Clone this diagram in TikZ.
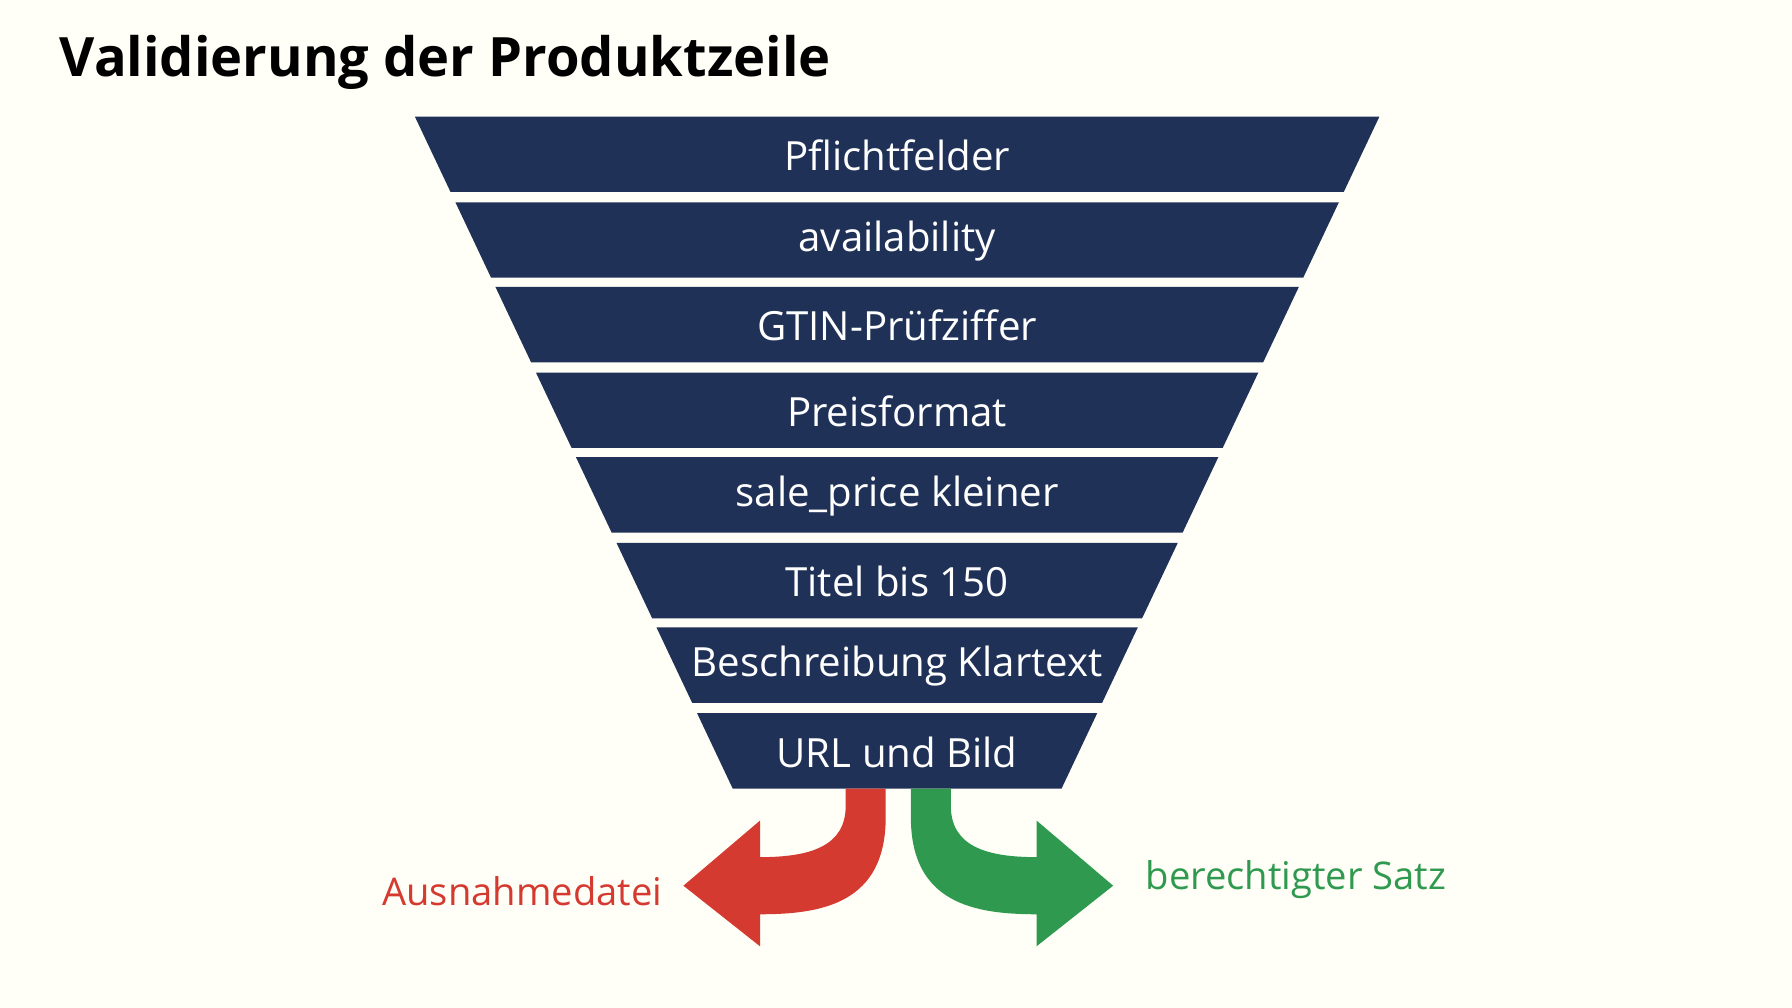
\documentclass[tikz,border=0pt]{standalone}
\usepackage{fontspec}
\setmainfont{Open Sans}
\usepackage{tikz}
\definecolor{navy}{HTML}{1F3157}
\definecolor{rejred}{HTML}{D43A30}
\definecolor{okgreen}{HTML}{2F9A4F}
\begin{document}
\begin{tikzpicture}[x=0.01cm,y=-0.01cm,
    band/.style={fill=navy},
    bandlabel/.style={text=white,font=\fontsize{10}{12}\selectfont},
    sidelabel/.style={font=\fontsize{9.5}{12}\selectfont}]
  \useasboundingbox[fill=white!97!yellow] (0,0) rectangle (1568,882);
  \node[anchor=west,font=\bfseries\fontsize{13.5}{16}\selectfont] (title) at (40,55) {Validierung der Produktzeile};
  % funnel bands
  \foreach \t/\txt [count=\i] in {102/Pflichtfelder,177/availability,251/GTIN-Prüfziffer,326/Preisformat,
      400/sale\_price kleiner,475/Titel bis 150,549/Beschreibung Klartext,624/URL und Bild}{
    \pgfmathsetmacro\b{\t+66}
    \pgfmathsetmacro\wt{422-0.473*(\t-102)}
    \pgfmathsetmacro\wb{422-0.473*(\b-102)}
    \fill[band] (785-\wt,\t) -- (785+\wt,\t) -- (785+\wb,\b) -- (785-\wb,\b) -- cycle;
    \node[bandlabel] (band\i) at (785,\t+34) {\txt};
  }
  % outlets
  \fill[rejred] (775,690) -- (775,715) .. controls (775,790) and (720,800) .. (665,800)
    -- (665,828) -- (598,775) -- (665,718) -- (665,750)
    .. controls (710,750) and (740,740) .. (740,705) -- (740,690) -- cycle;
  \fill[okgreen] (797,690) -- (797,715) .. controls (797,790) and (852,800) .. (907,800)
    -- (907,828) -- (974,775) -- (907,718) -- (907,750)
    .. controls (862,750) and (832,740) .. (832,705) -- (832,690) -- cycle;
  \node[sidelabel,text=rejred,anchor=east] (reject) at (592,780) {Ausnahmedatei};
  \node[sidelabel,text=okgreen,anchor=west] (accept) at (990,770) {berechtigter Satz};
\end{tikzpicture}
\end{document}
